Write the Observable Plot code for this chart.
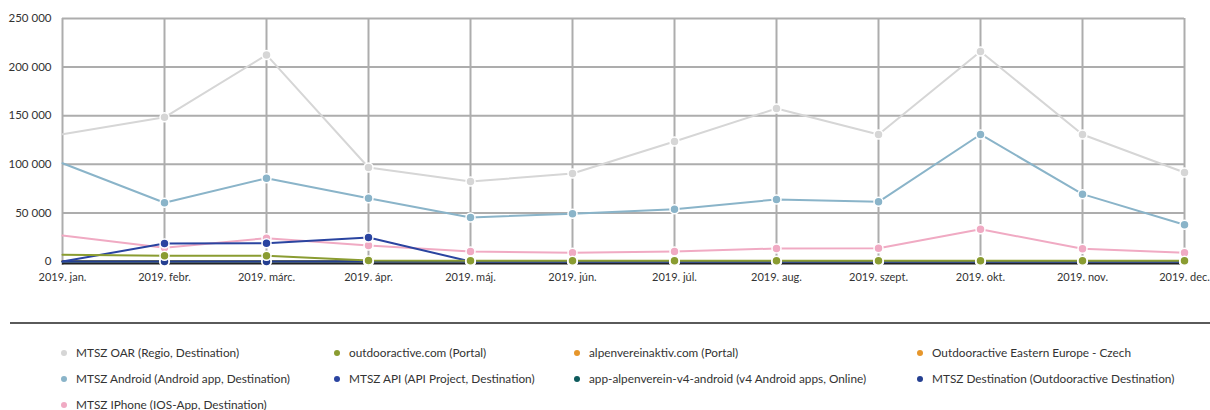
<!DOCTYPE html>
<html>
<head>
<meta charset="utf-8">
<script src="https://cdn.jsdelivr.net/npm/d3@7"></script>
<script src="https://cdn.jsdelivr.net/npm/@observablehq/plot@0.6"></script>
<style>
  body { margin: 0; background: #fff; font-family: Lato, "Open Sans", sans-serif; color: #333; }
  #chart { width: 1210px; height: 290px; }
  #sep { margin: 32px 0 0 10px; border-top: 2px solid #5a5a5a; height: 0; }
  #legend { display: grid; grid-template-columns: 273px 240px 343px auto; padding: 21px 0 0 61px; row-gap: 11px; font-size: 11.8px; }
  .item { display: flex; align-items: center; white-space: nowrap; height: 15px; }
  .dot { width: 6px; height: 6px; border-radius: 50%; margin-right: 9px; flex: none; }
</style>
</head>
<body>
<div id="chart"></div>
<div id="sep"></div>
<div id="legend"></div>
<script>
const months = ["2019. jan.","2019. febr.","2019. márc.","2019. ápr.","2019. máj.","2019. jún.","2019. júl.","2019. aug.","2019. szept.","2019. okt.","2019. nov.","2019. dec."];
const yTicks = [0, 50000, 100000, 150000, 200000, 250000];

// legend order
const seriesNames = [
  "MTSZ OAR (Regio, Destination)",
  "outdooractive.com (Portal)",
  "alpenvereinaktiv.com (Portal)",
  "Outdooractive Eastern Europe - Czech",
  "MTSZ Android (Android app, Destination)",
  "MTSZ API (API Project, Destination)",
  "app-alpenverein-v4-android (v4 Android apps, Online)",
  "MTSZ Destination (Outdooractive Destination)",
  "MTSZ IPhone (IOS-App, Destination)"
];
const seriesColors = ["#d6d6d6","#8a9c31","#e6962b","#e6962b","#8ab4c9","#2a44a0","#0d5a5c","#253f91","#f0aac3"];

const oar        = [131000,148300,212500,96700,82300,90500,123500,157400,130700,216000,130700,91600];
const portal     = [6900,5900,5900,1000,800,800,800,800,800,800,800,800];
const alpen      = [400,300,300,200,100,100,100,100,100,100,100,100];
const czech      = [200,200,200,0,0,0,0,0,0,0,0,0];
const android    = [101100,60500,85700,65100,45300,49100,53800,63800,61400,130700,69300,37800];
const api        = [0,18500,18800,24700,0,0,0,0,0,0,0,0];
const v4android  = [0,0,0,0,0,0,0,0,0,0,0,0];
const destination= [0,0,0,0,0,0,0,0,0,0,0,0];
const iphone     = [26700,14100,24000,16500,10300,9000,10300,13400,13700,33200,13100,9000];

const seriesValues = [oar, portal, alpen, czech, android, api, v4android, destination, iphone];
// drawing order (bottom to top)
const drawOrder = [0, 4, 8, 2, 3, 6, 7, 5, 1];

const rows = [];
for (const s of drawOrder) {
  seriesValues[s].forEach((v, i) => rows.push({series: seriesNames[s], color: seriesColors[s], month: months[i], i, value: v}));
}
const fmt = d => d3.format(",")(d).replace(/,/g, " ");

const chart = Plot.plot({
  width: 1210,
  height: 290,
  marginLeft: 62,
  marginRight: 26,
  marginTop: 18,
  marginBottom: 29,
  style: {fontFamily: "Lato, 'Open Sans', sans-serif", fontSize: "11px", color: "#333", background: "#fff"},
  x: {type: "point", domain: months, padding: 0, label: null},
  y: {domain: [0, 250000], label: null},
  color: {type: "identity"},
  marks: [
    Plot.ruleY(yTicks, {stroke: "#adadad", strokeWidth: 2, strokeOpacity: 1}),
    Plot.ruleX(months, {stroke: "#adadad", strokeWidth: 2, insetBottom: -4}),
    Plot.ruleY([0], {stroke: "#222", strokeWidth: 2, dy: 2}),
    Plot.line(rows, {x: "month", y: "value", z: "series", stroke: "color", strokeWidth: 2}),
    Plot.dot(rows.filter(d => d.i > 0), {x: "month", y: "value", fill: "color", stroke: "#fff", strokeWidth: 1.5, r: 4.5}),
    Plot.axisY({ticks: yTicks, tickSize: 0, tickPadding: 11, tickFormat: fmt, fill: "#333", fontSize: 11.5, label: null}),
    Plot.axisX({tickSize: 0, tickPadding: 12, fill: "#333", label: null})
  ]
});
document.getElementById("chart").appendChild(chart);

const legend = document.getElementById("legend");
seriesNames.forEach((n, k) => {
  const it = document.createElement("div");
  it.className = "item";
  it.innerHTML = `<span class="dot" style="background:${seriesColors[k]}"></span><span>${n}</span>`;
  legend.appendChild(it);
});
</script>
</body>
</html>
